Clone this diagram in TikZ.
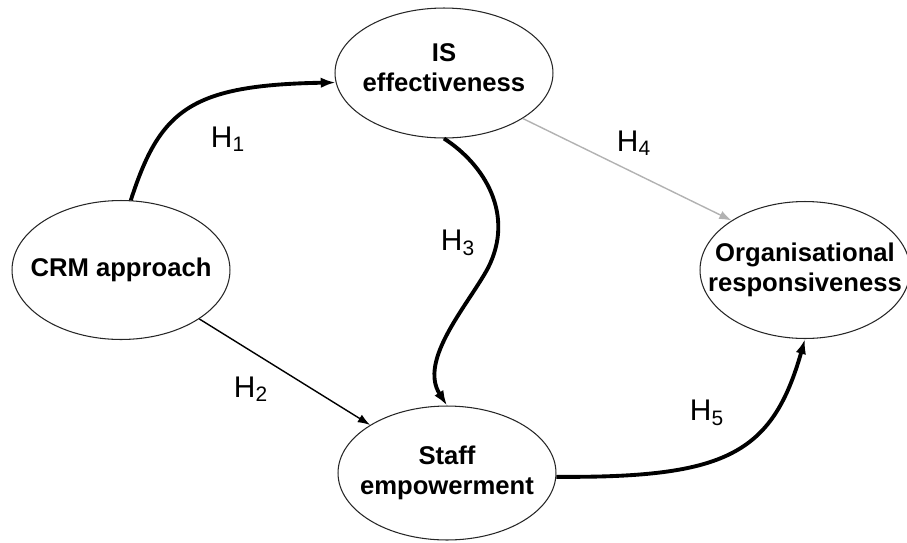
\documentclass[tikz,border=0pt]{standalone}
\usepackage{fontspec}
\setmainfont{Liberation Sans}
\usetikzlibrary{shapes.geometric,arrows.meta}

\tikzset{
  construct/.style={ellipse, draw=black!85, line width=0.6pt, inner sep=0pt},
  constructtext/.style={align=center, font=\fontsize{14.6}{17}\selectfont\bfseries},
  strong/.style={line width=2.2pt, -{Latex[length=8.5pt,width=6pt]}},
  weak/.style={line width=0.8pt, -{Latex[length=7pt,width=5pt]}},
  faint/.style={line width=0.8pt, gray!60, -{Latex[length=7pt,width=5pt]}},
  hyp/.style={font=\fontsize{17}{20}\selectfont}
}

\begin{document}
\begin{tikzpicture}[x=0.02cm, y=-0.02cm]
  \useasboundingbox (0,0) rectangle (907,542);
  % constructs
  \node[construct, minimum width=4.36cm, minimum height=2.6cm,
    label={[constructtext, yshift=3pt]center:IS\\effectiveness}] (is) at (444,73) {};
  \node[construct, minimum width=4.36cm, minimum height=2.78cm,
    label={[constructtext]center:CRM approach}] (crm) at (121,270) {};
  \node[construct, minimum width=4.36cm, minimum height=2.68cm,
    label={[constructtext]center:Staff\\empowerment}] (staff) at (447,473) {};
  \node[construct, minimum width=4.2cm, minimum height=2.74cm,
    label={[constructtext]center:Organisational\\responsiveness}] (org) at (805,270) {};

  % hypotheses
  \draw[strong] (crm.82) .. controls (160,110) and (190,85) .. (is.185);
  \draw[weak] (crm.328) -- (staff.148);
  \draw[strong] (is.south) .. controls (485,165) and (515,215) .. (488,268)
    .. controls (468,305) and (418,360) .. (staff.north);
  \draw[faint] (is.330) -- (org.146);
  \draw[strong] (staff.358) .. controls (725,478) and (772,455) .. (org.south);

  \node[hyp] (h1) at (228,139) {H\textsubscript{1}};
  \node[hyp] (h2) at (251,389) {H\textsubscript{2}};
  \node[hyp] (h3) at (458,243) {H\textsubscript{3}};
  \node[hyp] (h4) at (634,143) {H\textsubscript{4}};
  \node[hyp] (h5) at (707,413) {H\textsubscript{5}};
\end{tikzpicture}
\end{document}
